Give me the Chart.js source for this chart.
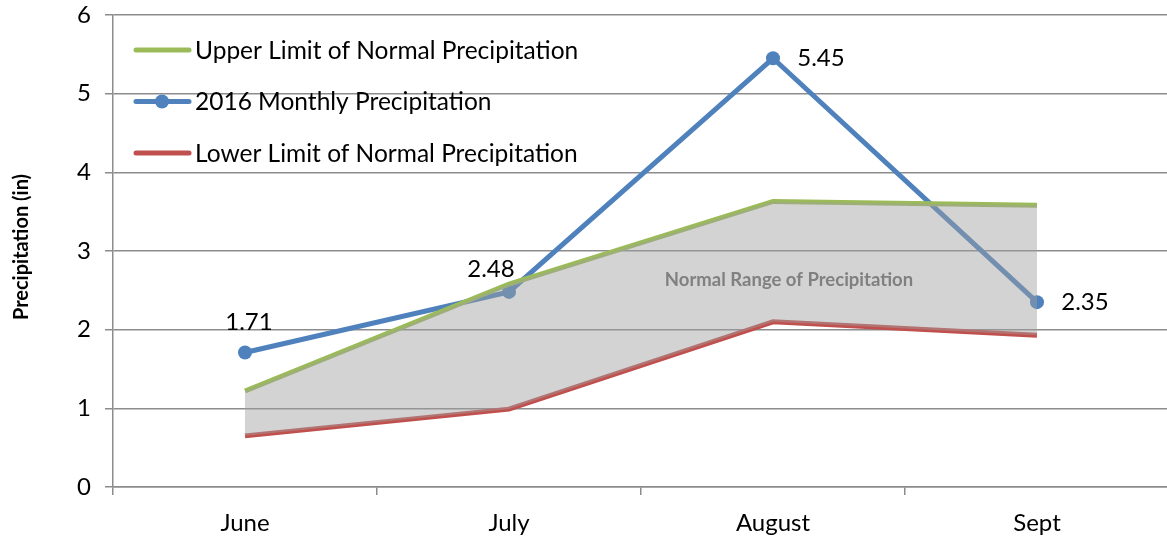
<!DOCTYPE html>
<html>
<head>
<meta charset="utf-8">
<script src="https://cdn.jsdelivr.net/npm/chart.js@4.4.0/dist/chart.umd.min.js"></script>
<style>
  html, body { margin: 0; padding: 0; background: #fff; overflow: hidden; }
  #wrap { width: 1176px; height: 537px; }
</style>
</head>
<body>
<div id="wrap"><canvas id="chart"></canvas></div>
<script>
const months = ["June", "July", "August", "Sept"]
const upperLimit = [1.22, 2.58, 3.63, 3.58]
const monthly2016 = [1.71, 2.48, 5.45, 2.35]
const lowerLimit = [0.65, 0.99, 2.10, 1.93]
const yTicks = [0, 1, 2, 3, 4, 5, 6]

const FONT = "Lato, 'Open Sans', sans-serif"
const GREEN = "#9bbb59"
const BLUE = "#4f81bd"
const RED = "#c0504d"
const GRID = "#8c8c8c"

// where each value label sits relative to its point
const labelOffsets = [[4, -30], [-18, -23], [48, 0], [48, 0]]

const overlayPlugin = {
  id: "overlay",
  afterDraw(chart) {
    const ctx = chart.ctx
    const x = chart.scales.x
    const y = chart.scales.y
    const area = chart.chartArea

    ctx.save()
    ctx.fillStyle = "#000"
    ctx.textAlign = "center"
    ctx.textBaseline = "middle"

    // y axis title
    ctx.save()
    ctx.translate(22, (area.top + area.bottom) / 2 - 4)
    ctx.rotate(-Math.PI / 2)
    ctx.font = "bold 20px " + FONT
    ctx.fillText("Precipitation (in)", 0, 0)
    ctx.restore()

    // value labels for 2016 series
    ctx.font = "24px " + FONT
    monthly2016.forEach((v, i) => {
      const px = x.getPixelForValue(i) + labelOffsets[i][0]
      const py = y.getPixelForValue(v) + labelOffsets[i][1]
      ctx.fillText(v.toFixed(2), px, py)
    })

    // band caption
    ctx.font = "bold 18.5px " + FONT
    ctx.fillStyle = "#808080"
    ctx.fillText("Normal Range of Precipitation", x.getPixelForValue(2) + 16, y.getPixelForValue(2.63))

    // legend
    const items = [
      { text: "Upper Limit of Normal Precipitation", color: GREEN, dot: false },
      { text: "2016 Monthly Precipitation", color: BLUE, dot: true },
      { text: "Lower Limit of Normal Precipitation", color: RED, dot: false },
    ]
    ctx.font = "24.5px " + FONT
    ctx.textAlign = "left"
    items.forEach((it, i) => {
      const ly = 50 + i * 51.5
      ctx.strokeStyle = it.color
      ctx.lineWidth = 5
      ctx.lineCap = "round"
      ctx.beginPath()
      ctx.moveTo(136, ly)
      ctx.lineTo(189, ly)
      ctx.stroke()
      if (it.dot) {
        ctx.fillStyle = it.color
        ctx.beginPath()
        ctx.arc(162, ly, 7, 0, Math.PI * 2)
        ctx.fill()
      }
      ctx.fillStyle = "#000"
      ctx.fillText(it.text, 195, ly + 1)
    })
    ctx.restore()
  },
}

new Chart(document.getElementById("chart"), {
  type: "line",
  data: {
    labels: months,
    datasets: [
      {
        // shaded normal range, drawn last so it sits over the lines
        label: "Normal Range",
        data: upperLimit,
        borderWidth: 0,
        borderColor: "rgba(0,0,0,0)",
        pointRadius: 0,
        tension: 0,
        fill: 3,
        backgroundColor: "rgba(160, 160, 160, 0.46)",
      },
      {
        label: "Upper Limit of Normal Precipitation",
        data: upperLimit,
        borderColor: GREEN,
        borderWidth: 5,
        pointRadius: 0,
        tension: 0,
        fill: false,
      },
      {
        label: "2016 Monthly Precipitation",
        data: monthly2016,
        borderColor: BLUE,
        backgroundColor: BLUE,
        borderWidth: 5,
        pointRadius: 7,
        pointBorderWidth: 0,
        tension: 0,
        fill: false,
      },
      {
        label: "Lower Limit of Normal Precipitation",
        data: lowerLimit,
        borderColor: RED,
        borderWidth: 5,
        pointRadius: 0,
        tension: 0,
        fill: false,
      },
    ],
  },
  options: {
    responsive: true,
    maintainAspectRatio: false,
    animation: false,
    layout: { padding: { top: 15, right: 0, left: 0, bottom: 0 } },
    plugins: {
      legend: { display: false },
      tooltip: { enabled: false },
    },
    scales: {
      x: {
        offset: true,
        grid: {
          offset: true,
          drawOnChartArea: false,
          tickLength: 8,
          color: GRID,
          lineWidth: 1.5,
        },
        border: { color: GRID, width: 1.5 },
        ticks: {
          font: { size: 24, family: FONT },
          color: "#000",
          padding: 14,
        },
        afterFit(scale) {
          scale.height = 50
          scale.paddingLeft = 0
          scale.paddingRight = 0
        },
      },
      y: {
        min: 0,
        max: 6,
        afterBuildTicks(scale) { scale.ticks = yTicks.map(v => ({ value: v })) },
        grid: { color: GRID, lineWidth: 1.5, tickLength: 8 },
        border: { color: GRID, width: 1.5 },
        ticks: {
          font: { size: 24, family: FONT },
          color: "#000",
          padding: 14,
        },
        afterFit(scale) {
          scale.width = 113
          scale.paddingTop = 0
          scale.paddingBottom = 0
        },
      },
    },
  },
  plugins: [overlayPlugin],
})
</script>
</body>
</html>
